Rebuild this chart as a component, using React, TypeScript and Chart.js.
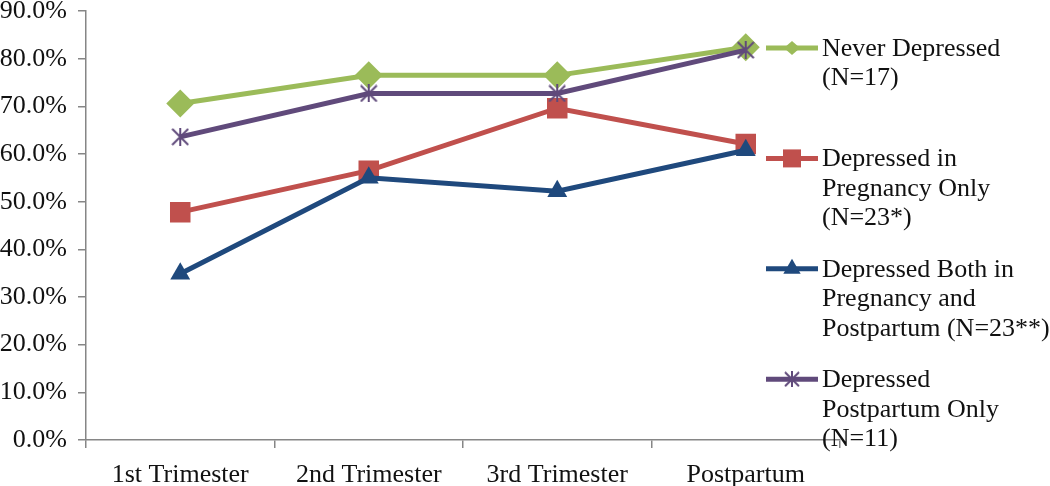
import React, { useEffect, useRef } from "react";
import { Chart, registerables } from "chart.js";

Chart.register(...registerables);

const categories = ["1st Trimester", "2nd Trimester", "3rd Trimester", "Postpartum"];
const neverDepressed = [70.6, 76.5, 76.5, 82.4];
const pregnancyOnly = [47.8, 56.5, 69.6, 62.1];
const bothPregnancyPostpartum = [34.9, 55.0, 52.2, 60.8];
const postpartumOnly = [63.6, 72.7, 72.7, 81.8];
const seriesLabels = [
  ["Never Depressed", "(N=17)"],
  ["Depressed in", "Pregnancy Only", "(N=23*)"],
  ["Depressed Both in", "Pregnancy and", "Postpartum (N=23**)"],
  ["Depressed", "Postpartum Only", "(N=11)"],
];
const yTickValues = [0, 10, 20, 30, 40, 50, 60, 70, 80, 90];

const GREEN = "#9BBB59";
const RED = "#C0504D";
const BLUE = "#1F497D";
const PURPLE = "#604A7B";
const FONT = "'Liberation Serif', 'Times New Roman', serif";

function makeStar(size: number, color: string) {
  const c = document.createElement("canvas");
  c.width = size;
  c.height = size;
  const g = c.getContext("2d")!;
  g.strokeStyle = color;
  g.lineWidth = 2;
  g.lineCap = "butt";
  g.beginPath();
  g.moveTo(1, 1);
  g.lineTo(size - 1, size - 1);
  g.moveTo(size - 1, 1);
  g.lineTo(1, size - 1);
  g.moveTo(size / 2, 0);
  g.lineTo(size / 2, size);
  g.stroke();
  return c;
}

function drawMarker(ctx: CanvasRenderingContext2D, kind: string, x: number, y: number, color: string, star?: HTMLCanvasElement) {
  ctx.save();
  ctx.fillStyle = color;
  ctx.beginPath();
  if (kind === "diamond") {
    const r = 8;
    ctx.moveTo(x, y - r + 1);
    ctx.lineTo(x + r, y);
    ctx.lineTo(x, y + r - 1);
    ctx.lineTo(x - r, y);
    ctx.closePath();
    ctx.fill();
  } else if (kind === "square") {
    const s = 9;
    ctx.rect(x - s, y - s, 2 * s, 2 * s);
    ctx.fill();
  } else if (kind === "triangle") {
    const r = 10;
    ctx.moveTo(x, y - r);
    ctx.lineTo(x + r * 0.866, y + r * 0.5);
    ctx.lineTo(x - r * 0.866, y + r * 0.5);
    ctx.closePath();
    ctx.fill();
  } else if (kind === "star" && star) {
    ctx.drawImage(star, x - star.width / 2, y - star.height / 2);
  }
  ctx.restore();
}

export default function App() {
  const ref = useRef<HTMLCanvasElement | null>(null);

  useEffect(() => {
    if (!ref.current) return;
    const star = makeStar(18, PURPLE);
    const legendStar = makeStar(16, PURPLE);
    const kinds = ["diamond", "square", "triangle", "star"];
    const colors = [GREEN, RED, BLUE, PURPLE];

    const sideLegend = {
      id: "sideLegend",
      afterDraw(chart: any) {
        const ctx: CanvasRenderingContext2D = chart.ctx;
        const area = chart.chartArea;
        const x0 = area.right - 74;
        const x1 = area.right - 22;
        const tx = area.right - 18;
        const lineH = 29.5;
        ctx.save();
        ctx.font = `26px ${FONT}`;
        ctx.textBaseline = "middle";
        ctx.textAlign = "left";
        seriesLabels.forEach((lines, i) => {
          const y = area.top + 37 + i * 110.4;
          ctx.strokeStyle = colors[i];
          ctx.lineWidth = 5;
          ctx.beginPath();
          ctx.moveTo(x0, y);
          ctx.lineTo(x1, y);
          ctx.stroke();
          drawMarker(ctx, kinds[i], (x0 + x1) / 2, y, colors[i], legendStar);
          ctx.fillStyle = "#111";
          lines.forEach((t, j) => ctx.fillText(t, tx, y + 1 + j * lineH));
        });
        ctx.restore();
      },
    };

    const chart = new Chart(ref.current, {
      type: "line",
      data: {
        labels: categories,
        datasets: [
          {
            label: seriesLabels[0].join(" "),
            data: neverDepressed,
            borderColor: GREEN,
            backgroundColor: GREEN,
            borderWidth: 5,
            pointStyle: "rectRot",
            pointRadius: 14,
            pointBorderWidth: 0,
            order: 4,
          },
          {
            label: seriesLabels[1].join(" "),
            data: pregnancyOnly,
            borderColor: RED,
            backgroundColor: RED,
            borderWidth: 5,
            pointStyle: "rect",
            pointRadius: 14.5,
            pointBorderWidth: 0,
            order: 3,
          },
          {
            label: seriesLabels[2].join(" "),
            data: bothPregnancyPostpartum,
            borderColor: BLUE,
            backgroundColor: BLUE,
            borderWidth: 5,
            pointStyle: "triangle",
            pointRadius: 11.5,
            pointBorderWidth: 0,
            order: 2,
          },
          {
            label: seriesLabels[3].join(" "),
            data: postpartumOnly,
            borderColor: PURPLE,
            backgroundColor: PURPLE,
            borderWidth: 5,
            pointStyle: star as any,
            pointRadius: 9,
            pointBorderWidth: 0,
            order: 1,
          },
        ],
      },
      options: {
        animation: false,
        responsive: false,
        maintainAspectRatio: false,
        layout: { padding: { top: 0, right: 210, bottom: 0, left: 0 } },
        plugins: {
          legend: { display: false },
          tooltip: { enabled: false },
        },
        scales: {
          x: {
            offset: true,
            grid: {
              display: true,
              offset: true,
              drawOnChartArea: false,
              tickLength: 8,
              color: "#868686",
              lineWidth: 1.5,
            },
            border: { display: true, color: "#868686", width: 1.5 },
            ticks: {
              color: "#111",
              font: { family: FONT, size: 26 },
              padding: 12,
              maxRotation: 0,
              autoSkip: false,
            },
            afterFit: (s: any) => {
              s.height = 46;
            },
          },
          y: {
            min: 0,
            max: 90,
            afterBuildTicks: (s: any) => {
              s.ticks = yTickValues.map((v) => ({ value: v }));
            },
            grid: {
              display: true,
              drawOnChartArea: false,
              tickLength: 8,
              color: "#868686",
              lineWidth: 1.5,
            },
            border: { display: true, color: "#868686", width: 1.5 },
            ticks: {
              color: "#111",
              font: { family: FONT, size: 26, lineHeight: 0.77 },
              padding: 11,
              callback: (v: any) => Number(v).toFixed(1) + "%",
            },
            afterFit: (s: any) => {
              s.width = 86;
            },
          },
        },
      },
      plugins: [sideLegend],
    });
    return () => chart.destroy();
  }, []);

  return (
    <div style={{ position: "absolute", left: 0, top: -10, width: 1050, height: 496, background: "#fff" }}>
      <canvas ref={ref} width={1050} height={496} style={{ width: 1050, height: 496, display: "block" }} />
    </div>
  );
}
